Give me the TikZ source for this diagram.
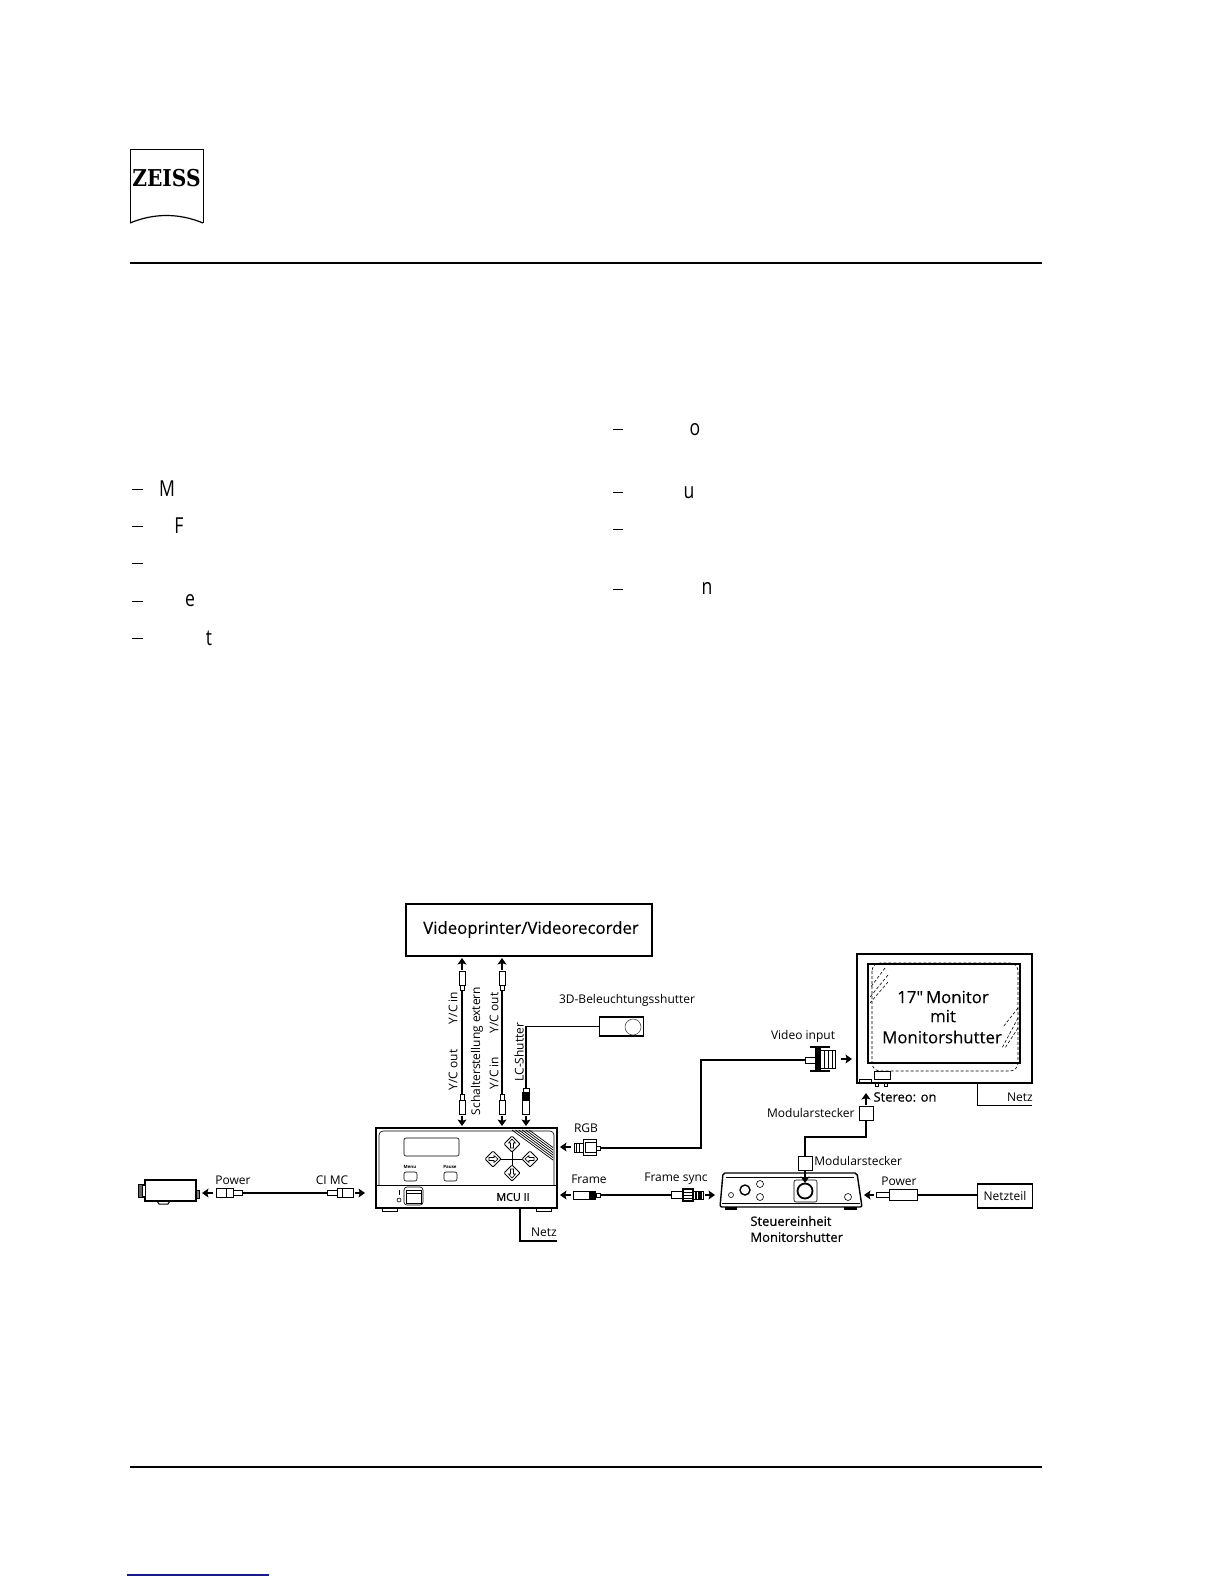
\documentclass[tikz,border=0pt]{standalone}
\usepackage{fontspec}
\setmainfont{Open Sans}
\newfontfamily\logofont{DejaVu Serif}
\newfontfamily\semifont[FakeBold=0.35]{Open Sans}
\newfontfamily\medfont[FakeBold=0.12]{Open Sans}
\usetikzlibrary{arrows.meta,positioning,calc}
\definecolor{linkblue}{HTML}{1A1A8C}

\begin{document}
\begin{tikzpicture}[x=0.5pt,y=-0.5pt,
    lab/.style={font=\fontsize{6}{7}\selectfont,inner sep=0pt},
    labb/.style={font=\semifont\fontsize{6.5}{7.5}\selectfont,inner sep=0pt},
    big/.style={font=\medfont\fontsize{8.4}{10}\selectfont,inner sep=0pt},
    bullet/.style={font=\fontsize{11}{12}\selectfont,inner sep=0pt,xscale=0.8},
    dev/.style={draw,line width=0.7pt,inner sep=0pt,outer sep=0pt},
    plug/.style={draw,fill=white,line width=0.5pt,inner sep=0pt,outer sep=0pt},
    plugb/.style={draw,fill=black,line width=0.5pt,inner sep=0pt,outer sep=0pt},
    cable/.style={line width=0.7pt},
    flow/.style={line width=1.4pt,-{Stealth[length=3.2pt,width=4.4pt,inset=0.6pt]}},
    thin1/.style={line width=0.3pt},
    hatch/.style={line width=0.3pt,dash pattern=on 1.5pt off 1pt},
  ]
  \useasboundingbox (0,0) rectangle (1224,1584);
  \fill[white] (0,0) rectangle (1224,1584);

  % logo and rules
  \draw[line width=0.5pt] (130,223) -- (130,149) -- (203,149) -- (203,223);
  \draw[line width=0.6pt] (130,223) .. controls (154,213) and (179,213) .. (203,223);
  \node[font=\logofont\bfseries\fontsize{11.6}{12}\selectfont,inner sep=0pt,xscale=0.87] (logo) at (166.5,178.5) {ZEISS};
  \draw[line width=0.65pt] (130,263) -- (1042,263);
  \draw[line width=0.65pt] (130,1467) -- (1042,1467);
  \draw[linkblue,line width=0.6pt] (127,1575) -- (269,1575);

  % list fragments
  \foreach \ypos in {489,526,563,601,638} \draw[line width=0.45pt] (132,\ypos) -- (143,\ypos);
  \foreach \ypos in {429,492,529,589} \draw[line width=0.45pt] (613,\ypos) -- (623,\ypos);
  \node[bullet] (lm) at (167,489) {M};
  \node[bullet] (lf) at (179,526) {F};
  \node[bullet] (le) at (190,601) {e};
  \node[bullet] (lt) at (209,638) {t};
  \node[bullet] (ro) at (695,430) {o};
  \node[bullet] (ru) at (689,493) {u};
  \node[bullet] (rn) at (707,589) {n};

  % videoprinter
  \node[dev,minimum width=123pt,minimum height=26pt] (printer) at (529,930) {};
  \node[big] (printerlab) at (531,929.5) {Videoprinter/Videorecorder};

  % y/c cables
  \foreach \xpos/\nm in {462/a,502/b} {
    \node[plug,minimum width=3pt,minimum height=7pt] (\nm top) at (\xpos,978) {};
    \node[plug,minimum width=2pt,minimum height=2.5pt] (\nm neck) at (\xpos,987.5) {};
    \node[plug,minimum width=2pt,minimum height=3pt] (\nm low) at (\xpos,1097) {};
    \node[plug,minimum width=3pt,minimum height=7pt] (\nm plug) at (\xpos,1107) {};
    \draw[cable] (\nm neck.south) -- (\nm low.north);
    \coordinate (\nm up) at (\xpos,958);
    \coordinate (\nm dn) at (\xpos,1126);
    \draw[flow] (\nm top.north) ++(0,-1) -- (\nm up);
    \draw[flow] (\nm plug.south) ++(0,2) -- (\nm dn);
  }
  \node[lab,rotate=90] (yc1) at (453,1008) {Y/C in};
  \node[lab,rotate=90] (yc2) at (453,1070) {Y/C out};
  \node[lab,rotate=90] (sch) at (477,1051) {Schalterstellung extern};
  \node[lab,rotate=90] (yc3) at (494,1013) {Y/C out};
  \node[lab,rotate=90] (yc4) at (494,1073) {Y/C in};
  \node[lab,rotate=90] (lcs) at (519,1052) {LC-Shutter};

  % lc shutter
  \node[plug,minimum width=3pt,minimum height=2pt] (lctop) at (526,1090) {};
  \node[plugb,minimum width=3.5pt,minimum height=4pt] (lcblk) at (526,1096) {};
  \node[plug,minimum width=3.5pt,minimum height=7pt] (lcplug) at (526,1107) {};
  \node[dev,minimum width=22pt,minimum height=9.5pt] (shutter) at (621.5,1026.5) {};
  \draw[cable] (lctop.north) |- (shutter.west);
  \draw[thin1,black!70] (633,1027) circle (8);
  \coordinate (lcdn) at (526,1126);
  \draw[flow] (lcplug.south) ++(0,2) -- (lcdn);
  \node[lab] (shutterlab) at (627,1000) {3D-Beleuchtungsshutter};

  % mcu
  \node[dev,line width=0.9pt,minimum width=90.5pt,minimum height=40pt] (mcu) at (466.5,1168) {};
  \draw[thin1,rounded corners=2pt] (379,1185) -- (379,1131) -- (554,1131) -- (554,1185);
  \draw[line width=0.5pt] (376,1185) -- (557,1185);
  \draw[thin1,rounded corners=1pt] (404,1138) rectangle (459,1156);
  \draw[thin1,rounded corners=1pt] (404,1172) rectangle (417,1181);
  \draw[thin1,rounded corners=1pt] (444,1172) rectangle (457,1181);
  \node[font=\fontsize{2.2}{3}\selectfont\bfseries,inner sep=0pt] (mmenu) at (410,1167) {Menu};
  \node[font=\fontsize{2.2}{3}\selectfont\bfseries,inner sep=0pt] (mpause) at (450,1167) {Pause};
  % hatching
  \foreach \off in {0,2.5,5,7.5,10,12.5} \draw[line width=0.35pt] (512+\off*1.37,1130) -- (553,1160-\off);
  % cross buttons
  \draw[line width=0.45pt] (493,1159) -- (530,1159) (512,1144) -- (512,1173);
  \foreach \cx/\cy/\ang in {512/1144/0,512/1173/180,493/1159/-90,530/1159/90} {
    \begin{scope}[shift={(\cx,\cy)},rotate=\ang]
      \draw[fill=white,line width=0.45pt,rounded corners=0.5pt] (0,-8) -- (8,0) -- (0,8) -- (-8,0) -- cycle;
      \draw[line width=0.3pt] (0,-5) -- (3.5,-1) -- (1.5,-1) -- (1.5,4) -- (-1.5,4) -- (-1.5,-1) -- (-3.5,-1) -- cycle;
    \end{scope}
  }
  % switch
  \draw[thin1,rounded corners=1.5pt] (404,1187) rectangle (423,1205);
  \draw[line width=0.45pt] (406,1190) rectangle (421,1203);
  \draw[thin1] (406,1193) -- (421,1193);
  \draw[line width=0.35pt] (399,1190) -- (399,1195);
  \draw[line width=0.3pt] (399,1200) circle (2);
  \node[labb,font=\semifont\fontsize{5.4}{6}\selectfont] (mculab) at (513,1197) {MCU II};
  \draw[fill=white,line width=0.5pt] (382,1208.5) rectangle (397,1211);
  \draw[fill=white,line width=0.5pt] (536,1208.5) rectangle (551,1211);
  % netz of mcu
  \coordinate (mcunetz) at (557,1241);
  \draw[line width=0.9pt] (520,1208) |- (mcunetz);
  \node[lab] (netz1) at (544,1232) {Netz};

  % camera
  \node[dev,minimum width=25.5pt,minimum height=10.5pt] (cam) at (170.5,1190.5) {};
  \draw[fill=black!60,line width=0.5pt] (138,1184) rectangle (145,1197);
  \draw[fill=white,line width=0.3pt] (142,1185) rectangle (145,1196);
  \draw[fill=black!50,line width=0.4pt] (196,1190) rectangle (199,1198);
  \draw[line width=0.5pt] (157,1201) -- (159,1204) -- (168,1204) -- (170,1201);
  \coordinate (camtip) at (202,1193);
  \coordinate (camfrom) at (213,1193);
  \draw[flow] (camfrom) -- (camtip);
  \node[plug,minimum width=8.5pt,minimum height=4.5pt] (pwrplug) at (224.5,1192.5) {};
  \draw[line width=0.4pt] (226,1188) -- (226,1197);
  \node[plug,minimum width=4.5pt,minimum height=2.2pt] (pwrneck) at (237.5,1193) {};
  \node[plug,minimum width=5pt,minimum height=2.2pt] (cimneck) at (332,1193) {};
  \node[plug,minimum width=8pt,minimum height=4.5pt] (cimplug) at (345,1193) {};
  \draw[line width=0.4pt] (342,1188.5) -- (342,1197.5);
  \draw[cable] (pwrneck.east) -- (cimneck.west);
  \coordinate (cimtip) at (365,1193);
  \coordinate (cimfrom) at (355,1193);
  \draw[flow] (cimfrom) -- (cimtip);
  \node[lab] (pwrlab) at (233,1180) {Power};
  \node[lab] (cimlab) at (332,1180) {CI MC};

  % rgb
  \coordinate (rgbtip) at (560,1147);
  \coordinate (rgbfrom) at (571,1147);
  \draw[flow] (rgbfrom) -- (rgbtip);
  \node[plug,minimum width=4.5pt,minimum height=4.5pt] (rgbbody) at (578.5,1147.5) {};
  \foreach \xpos in {576.5,579.5} \draw[line width=0.4pt] (\xpos,1143) -- (\xpos,1152);
  \draw[line width=0.5pt] (583,1139) rectangle (596,1155);
  \draw[line width=0.4pt] (585,1142) rectangle (596,1152);
  \node[plug,minimum width=2pt,minimum height=2pt] (rgbneck) at (598,1148) {};
  \node[lab] (rgblab) at (586,1128) {RGB};

  % video input
  \node[plug,minimum width=5pt,minimum height=3pt] (vidneck) at (810,1060) {};
  \draw[cable] (rgbneck.east) -| (701,1060) -- (vidneck.west);
  \draw[fill=black,line width=0.3pt] (815,1047) rectangle (820,1071);
  \draw[line width=0.9pt] (810,1047) -- (830,1047) (810,1071) -- (830,1071);
  \draw[fill=white,line width=0.5pt] (820,1050) rectangle (835,1068);
  \foreach \xpos in {824,828,832} \draw[line width=0.3pt] (\xpos,1050) -- (\xpos,1068);
  \coordinate (vidtip) at (852,1059);
  \coordinate (vidfrom) at (841,1059);
  \draw[flow] (vidfrom) -- (vidtip);
  \node[lab] (vidlab) at (803,1036) {Video input};

  % monitor
  \node[dev,minimum width=87.5pt,minimum height=64.5pt] (monitor) at (944.5,1018.5) {};
  \draw[line width=0.6pt] (868,964) rectangle (1020,1063);
  \draw[line width=1pt] (868,964) -- (1020,964);
  \draw[hatch,rounded corners=4pt] (872,963) rectangle (1018,1071);
  \foreach \xa/\ya/\xb/\yb in {885/968/870/988,888/975/870/997,888/982/870/1003,1018/1008/1003/1027,1018/1018/1002/1048,1018/1028/1005/1048}
    \draw[hatch] (\xa,\ya) -- (\xb,\yb);
  \node[big] (mon1) at (943,997) {17\char34\,Monitor};
  \node[big] (mon2) at (943,1016) {mit};
  \node[big] (mon3) at (942,1037) {Monitorshutter};
  \draw[thin1] (859,1079) rectangle (871,1083);
  \draw[fill=white,line width=0.45pt] (874,1071) rectangle (890,1079);
  \draw[line width=0.45pt] (875.5,1083) rectangle (878.5,1086);
  \draw[line width=0.45pt] (884.5,1083) rectangle (887.5,1086);
  \coordinate (monnetz) at (1032,1105);
  \draw[line width=0.45pt] (977,1083) |- (monnetz);
  \node[lab] (netz2) at (1020,1097) {Netz};
  \node[labb] (stereo) at (905,1097) {Stereo: on};

  % modular plugs
  \node[plug,minimum width=7pt,minimum height=7pt] (mod1) at (866,1113) {};
  \node[plug,minimum width=7pt,minimum height=7pt] (mod2) at (805,1163) {};
  \draw[cable] (mod1.south) |- (805,1137) -- (mod2.north);
  \coordinate (modup) at (866,1093);
  \draw[flow] (mod1.north) ++(0,-1) -- (modup);
  \coordinate (moddn) at (805,1183);
  \node[lab,anchor=east] (mod1lab) at (855,1113) {Modularstecker};
  \node[lab,anchor=west] (mod2lab) at (814,1161) {Modularstecker};

  % steuereinheit
  \draw[line width=0.7pt,rounded corners=1pt] (723,1173) -- (857,1173) -- (862,1207) -- (720,1207) -- cycle;
  \draw[thin1] (726,1177) -- (854,1177) (722,1203) -- (860,1203);
  \fill (725,1207) rectangle (737,1210);
  \fill (844,1207) rectangle (857,1210);
  \draw[thin1] (731,1195) circle (2.5);
  \draw[line width=0.7pt] (745,1190) circle (5);
  \draw[thin1] (760,1184) circle (3.5);
  \draw[thin1] (760,1197) circle (3.5);
  \draw[thin1,rounded corners=1pt] (794,1180) rectangle (817,1202);
  \draw[line width=0.9pt] (805,1191) circle (7.5);
  \draw[flow] (mod2.south) -- (moddn);
  \draw[thin1] (848,1197) circle (3.5);
  \node[labb,anchor=west] (st1) at (750,1221) {Steuereinheit};
  \node[labb,anchor=west] (st2) at (750,1237) {Monitorshutter};

  % frame sync
  \coordinate (frtip) at (560,1195);
  \coordinate (frfrom) at (571,1195);
  \draw[flow] (frfrom) -- (frtip);
  \node[plug,minimum width=8.5pt,minimum height=4pt] (frplug) at (581.5,1195) {};
  \node[plugb,minimum width=3pt,minimum height=4pt] (frblk) at (592.5,1195) {};
  \node[plug,minimum width=2pt,minimum height=2pt] (frneck) at (598,1195) {};
  \node[plug,minimum width=6pt,minimum height=3.5pt] (fsneck) at (677,1195) {};
  \draw[cable] (frneck.east) -- (fsneck.west);
  \draw[fill=white,line width=0.7pt] (683,1189) rectangle (693,1201);
  \foreach \ypos in {1192,1195,1198} \draw[line width=0.5pt] (683,\ypos) -- (693,\ypos);
  \draw[fill=white,line width=0.5pt] (693,1191) rectangle (703,1199);
  \foreach \xpos in {696,699,701} \draw[line width=0.6pt] (\xpos,1191) -- (\xpos,1199);
  \coordinate (fstip) at (715,1195);
  \coordinate (fsfrom) at (705,1195);
  \draw[flow] (fsfrom) -- (fstip);
  \node[lab] (frlab) at (589,1179) {Frame};
  \node[lab] (fslab) at (676,1179) {Frame sync};

  % power supply
  \coordinate (psutip) at (864,1195);
  \coordinate (psufrom) at (874,1195);
  \draw[flow] (psufrom) -- (psutip);
  \node[plug,minimum width=6.5pt,minimum height=2.5pt] (psuneck) at (882.5,1195) {};
  \node[plug,minimum width=14pt,minimum height=5.5pt] (psuplug) at (903,1195) {};
  \node[dev,minimum width=27.5pt,minimum height=12pt] (psu) at (1005,1196) {};
  \node[lab] (psulab) at (1005,1196) {Netzteil};
  \draw[cable] (psuplug.east) -- (psu.west |- psuplug.east);
  \node[lab] (psulab2) at (899,1181) {Power};
\end{tikzpicture}
\end{document}
